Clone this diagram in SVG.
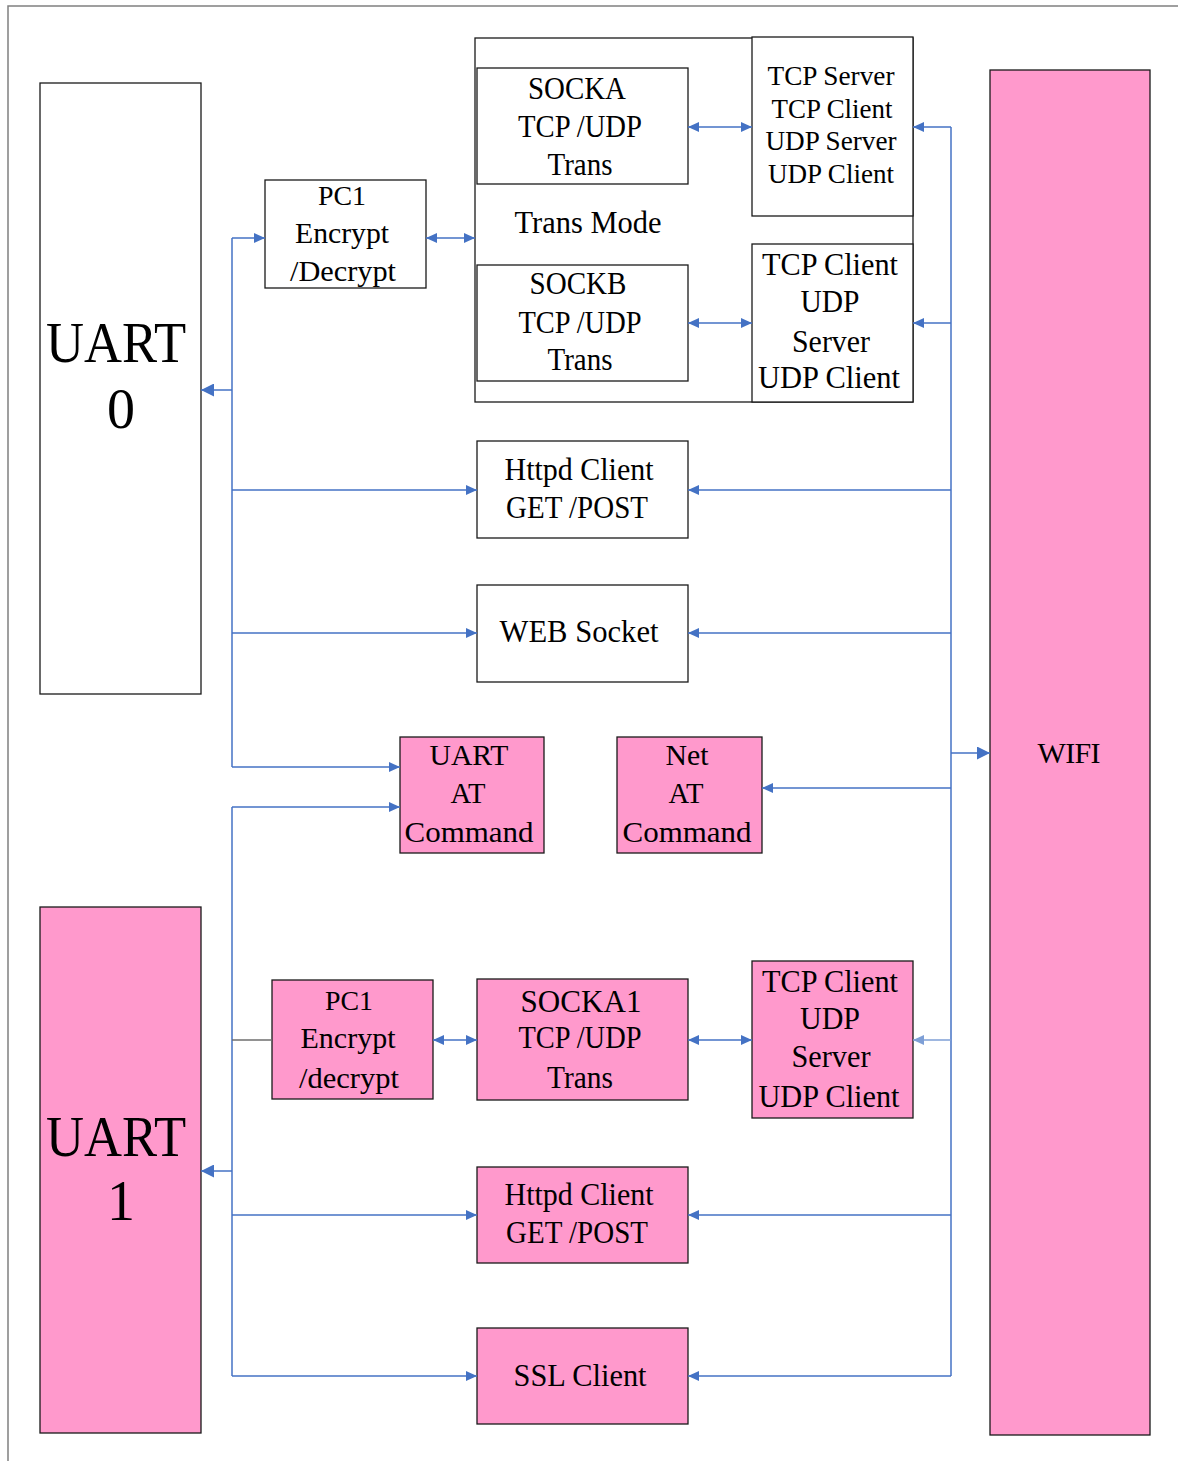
<svg xmlns="http://www.w3.org/2000/svg" width="1178" height="1461" viewBox="0 0 1178 1461">
<style>
.b{fill:#fff;stroke:#1a1a1a;stroke-width:1.3}
.p{fill:#FF99CC;stroke:#1a1a1a;stroke-width:1.3}
.c{fill:none;stroke:#4472C4;stroke-width:1.5}
.t{font-family:"Liberation Serif","Times New Roman",serif;fill:#000;text-anchor:middle}
</style>
<defs>
<marker id="a" viewBox="0 0 11 10" refX="11" refY="5" markerWidth="11" markerHeight="10" markerUnits="userSpaceOnUse" orient="auto-start-reverse"><path d="M0,0 L11,5 L0,10 z" fill="#4472C4"/></marker>
<marker id="A" viewBox="0 0 13 13" refX="13" refY="6.5" markerWidth="13" markerHeight="13" markerUnits="userSpaceOnUse" orient="auto-start-reverse"><path d="M0,0 L13,6.5 L0,13 z" fill="#4472C4"/></marker>
<marker id="L" viewBox="0 0 11 10" refX="11" refY="5" markerWidth="11" markerHeight="10" markerUnits="userSpaceOnUse" orient="auto-start-reverse"><path d="M0,0 L11,5 L0,10 z" fill="#7E9FD6"/></marker>
</defs>
<rect width="1178" height="1461" fill="#fff"/>
<path d="M8,1461 V6 H1178" fill="none" stroke="#808080" stroke-width="1.5"/>

<g id="uart0"><rect class="b" x="40" y="83" width="161" height="611"/>
<text class="t" x="116" y="362" font-size="56" textLength="140" lengthAdjust="spacingAndGlyphs">UART</text>
<text class="t" x="121" y="428" font-size="56">0</text></g>

<g id="pc1top"><rect class="b" x="265" y="180" width="161" height="108"/>
<text class="t" x="342" y="205" font-size="28" textLength="48" lengthAdjust="spacingAndGlyphs">PC1</text>
<text class="t" x="342" y="243" font-size="30" textLength="94" lengthAdjust="spacingAndGlyphs">Encrypt</text>
<text class="t" x="343" y="281" font-size="30" textLength="106" lengthAdjust="spacingAndGlyphs">/Decrypt</text></g>

<g id="transmode"><rect class="b" x="475" y="38" width="438" height="364"/>
<text class="t" x="588" y="233" font-size="31" textLength="147" lengthAdjust="spacingAndGlyphs">Trans Mode</text></g>

<g id="socka"><rect class="b" x="477" y="68" width="211" height="116"/>
<text class="t" x="577" y="99" font-size="31" textLength="98" lengthAdjust="spacingAndGlyphs">SOCKA</text>
<text class="t" x="580" y="137" font-size="31" textLength="124" lengthAdjust="spacingAndGlyphs">TCP /UDP</text>
<text class="t" x="580" y="175" font-size="31" textLength="65" lengthAdjust="spacingAndGlyphs">Trans</text></g>

<g id="tcpserver"><rect class="b" x="752" y="37" width="161" height="179"/>
<text class="t" x="831" y="85" font-size="27" textLength="127" lengthAdjust="spacingAndGlyphs">TCP Server</text>
<text class="t" x="832" y="118" font-size="27" textLength="121" lengthAdjust="spacingAndGlyphs">TCP Client</text>
<text class="t" x="831" y="150" font-size="27" textLength="131" lengthAdjust="spacingAndGlyphs">UDP Server</text>
<text class="t" x="831" y="183" font-size="27" textLength="126" lengthAdjust="spacingAndGlyphs">UDP Client</text></g>

<g id="sockb"><rect class="b" x="477" y="265" width="211" height="116"/>
<text class="t" x="578" y="294" font-size="31" textLength="97" lengthAdjust="spacingAndGlyphs">SOCKB</text>
<text class="t" x="580" y="333" font-size="31" textLength="123" lengthAdjust="spacingAndGlyphs">TCP /UDP</text>
<text class="t" x="580" y="370" font-size="31" textLength="65" lengthAdjust="spacingAndGlyphs">Trans</text></g>

<g id="tcpclient1"><rect class="b" x="752" y="244" width="161" height="158"/>
<text class="t" x="830" y="275" font-size="31" textLength="136" lengthAdjust="spacingAndGlyphs">TCP Client</text>
<text class="t" x="830" y="312" font-size="31" textLength="59" lengthAdjust="spacingAndGlyphs">UDP</text>
<text class="t" x="831" y="352" font-size="31" textLength="78" lengthAdjust="spacingAndGlyphs">Server</text>
<text class="t" x="829" y="388" font-size="31" textLength="142" lengthAdjust="spacingAndGlyphs">UDP Client</text></g>

<g id="httpd1"><rect class="b" x="477" y="441" width="211" height="97"/>
<text class="t" x="579" y="480" font-size="31" textLength="149" lengthAdjust="spacingAndGlyphs">Httpd Client</text>
<text class="t" x="577" y="518" font-size="31" textLength="142" lengthAdjust="spacingAndGlyphs">GET /POST</text></g>

<g id="websocket"><rect class="b" x="477" y="585" width="211" height="97"/>
<text class="t" x="579" y="642" font-size="31" textLength="159" lengthAdjust="spacingAndGlyphs">WEB Socket</text></g>

<g id="uartat"><rect class="p" x="400" y="737" width="144" height="116"/>
<text class="t" x="469" y="765" font-size="30" textLength="79" lengthAdjust="spacingAndGlyphs">UART</text>
<text class="t" x="468" y="803" font-size="30" textLength="35" lengthAdjust="spacingAndGlyphs">AT</text>
<text class="t" x="469" y="842" font-size="30" textLength="129" lengthAdjust="spacingAndGlyphs">Command</text></g>

<g id="netat"><rect class="p" x="617" y="737" width="145" height="116"/>
<text class="t" x="687" y="765" font-size="30" textLength="43" lengthAdjust="spacingAndGlyphs">Net</text>
<text class="t" x="686" y="803" font-size="30" textLength="35" lengthAdjust="spacingAndGlyphs">AT</text>
<text class="t" x="687" y="842" font-size="30" textLength="129" lengthAdjust="spacingAndGlyphs">Command</text></g>

<g id="wifi"><rect class="p" x="990" y="70" width="160" height="1365"/>
<text class="t" x="1069" y="763" font-size="30" textLength="63" lengthAdjust="spacing">WIFI</text></g>

<g id="uart1"><rect class="p" x="40" y="907" width="161" height="526"/>
<text class="t" x="116" y="1156" font-size="56" textLength="140" lengthAdjust="spacingAndGlyphs">UART</text>
<text class="t" x="121" y="1220" font-size="56">1</text></g>

<g id="pc1bottom"><rect class="p" x="272" y="980" width="161" height="119"/>
<text class="t" x="349" y="1010" font-size="28" textLength="48" lengthAdjust="spacingAndGlyphs">PC1</text>
<text class="t" x="348" y="1048" font-size="30" textLength="95" lengthAdjust="spacingAndGlyphs">Encrypt</text>
<text class="t" x="349" y="1088" font-size="30" textLength="100" lengthAdjust="spacingAndGlyphs">/decrypt</text></g>

<g id="socka1"><rect class="p" x="477" y="979" width="211" height="121"/>
<text class="t" x="581" y="1012" font-size="31" textLength="121" lengthAdjust="spacingAndGlyphs">SOCKA1</text>
<text class="t" x="580" y="1048" font-size="31" textLength="123" lengthAdjust="spacingAndGlyphs">TCP /UDP</text>
<text class="t" x="580" y="1088" font-size="31" textLength="66" lengthAdjust="spacingAndGlyphs">Trans</text></g>

<g id="tcpclient2"><rect class="p" x="752" y="961" width="161" height="157"/>
<text class="t" x="830" y="992" font-size="31" textLength="136" lengthAdjust="spacingAndGlyphs">TCP Client</text>
<text class="t" x="830" y="1029" font-size="31" textLength="60" lengthAdjust="spacingAndGlyphs">UDP</text>
<text class="t" x="831" y="1067" font-size="31" textLength="79" lengthAdjust="spacingAndGlyphs">Server</text>
<text class="t" x="829" y="1107" font-size="31" textLength="141" lengthAdjust="spacingAndGlyphs">UDP Client</text></g>

<g id="httpd2"><rect class="p" x="477" y="1167" width="211" height="96"/>
<text class="t" x="579" y="1205" font-size="31" textLength="149" lengthAdjust="spacingAndGlyphs">Httpd Client</text>
<text class="t" x="577" y="1243" font-size="31" textLength="142" lengthAdjust="spacingAndGlyphs">GET /POST</text></g>

<g id="ssl"><rect class="p" x="477" y="1328" width="211" height="96"/>
<text class="t" x="580" y="1386" font-size="31" textLength="133" lengthAdjust="spacingAndGlyphs">SSL Client</text></g>

<g id="connectors">
<path class="c" d="M232,238 V767"/>
<path class="c" d="M232,238 H265" marker-end="url(#a)"/>
<path class="c" d="M232,390 H201" stroke-width="2.5" marker-end="url(#A)"/>
<path class="c" d="M232,490 H477" marker-end="url(#a)"/>
<path class="c" d="M232,633 H477" marker-end="url(#a)"/>
<path class="c" d="M232,767 H400" marker-end="url(#a)"/>
<path class="c" d="M232,807 V1376"/>
<path class="c" d="M232,807 H400" marker-end="url(#a)"/>
<path d="M232,1040 H272" fill="none" stroke="#6e6e6e" stroke-width="1.5"/>
<path class="c" d="M232,1171 H201" stroke-width="2.5" marker-end="url(#A)"/>
<path class="c" d="M232,1215 H477" marker-end="url(#a)"/>
<path class="c" d="M232,1376 H477" marker-end="url(#a)"/>
<path class="c" d="M426,238 H475" marker-start="url(#a)" marker-end="url(#a)"/>
<path class="c" d="M688,127 H752" marker-start="url(#a)" marker-end="url(#a)"/>
<path class="c" d="M688,323 H752" marker-start="url(#a)" marker-end="url(#a)"/>
<path class="c" d="M433,1040 H477" marker-start="url(#a)" marker-end="url(#a)"/>
<path class="c" d="M688,1040 H752" marker-start="url(#a)" marker-end="url(#a)"/>
<path class="c" d="M951,127 V1376"/>
<path class="c" d="M951,127 H913" marker-end="url(#a)"/>
<path class="c" d="M951,323 H913" marker-end="url(#a)"/>
<path class="c" d="M951,490 H688" marker-end="url(#a)"/>
<path class="c" d="M951,633 H688" marker-end="url(#a)"/>
<path class="c" d="M951,753 H990" stroke-width="2.5" marker-end="url(#A)"/>
<path class="c" d="M951,788 H762" marker-end="url(#a)"/>
<path d="M951,1040 H913" fill="none" stroke="#7E9FD6" stroke-width="1.5" marker-end="url(#L)"/>
<path class="c" d="M951,1215 H688" marker-end="url(#a)"/>
<path class="c" d="M951,1376 H688" marker-end="url(#a)"/>
</g>
</svg>
